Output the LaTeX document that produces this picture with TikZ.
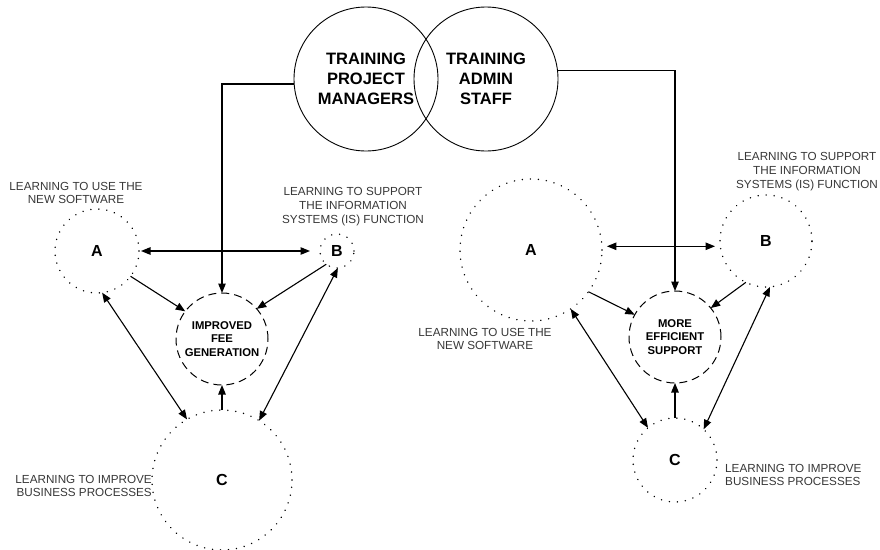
\documentclass[tikz,border=0pt]{standalone}
\usepackage{fontspec}
\setmainfont{Liberation Sans}
\usetikzlibrary{arrows.meta,calc}
\definecolor{lblgray}{HTML}{383838}
\begin{document}
\begin{tikzpicture}[x=1pt,y=-1pt,
  big/.style={circle,draw,line width=0.9pt,minimum size=144pt,inner sep=0pt,outer sep=0pt,
    font=\fontsize{16.5}{20}\selectfont\bfseries,align=center},
  dotc/.style={circle,draw,line width=1.6pt,dash pattern=on 0.01pt off 8pt,line cap=round,
    inner sep=0pt,outer sep=0pt,font=\fontsize{16}{18}\selectfont\bfseries},
  dashc/.style={circle,draw,line width=1pt,dash pattern=on 8pt off 5pt,inner sep=0pt,outer sep=0pt,
    align=center,font=\fontsize{11.3}{13.5}\selectfont\bfseries},
  lbl/.style={align=center,text=lblgray,inner sep=0pt,font=\fontsize{11.7}{13.9}\selectfont},
  arr/.style={line width=1.1pt,-{Triangle[length=9.5pt,width=7.5pt]}},
  dbl/.style={line width=1.1pt,{Triangle[length=9.5pt,width=7.5pt]}-{Triangle[length=9.5pt,width=7.5pt]}}
]
\useasboundingbox (0,0) rectangle (880,549);

% top circles
\node[big] (mgr) at (366,79) {TRAINING\\PROJECT\\MANAGERS};
\node[big] (adm) at (486,79) {TRAINING\\ADMIN\\STAFF};

% left cluster
\node[dotc,minimum size=84pt] (lA) at (97,251) {A};
\node[dotc,minimum size=34pt] (lB) at (337,251) {B};
\node[dashc,minimum size=92pt] (lF) at (222,339) {IMPROVED\\FEE\\GENERATION};
\node[dotc,minimum size=140pt] (lC) at (222,480) {C};

\node[lbl] (lAl) at (76,193) {LEARNING TO USE THE\\NEW SOFTWARE};
\node[lbl] (lBl) at (353,207) {LEARNING TO SUPPORT\\THE INFORMATION\\SYSTEMS (IS) FUNCTION};
\node[lbl,align=right,anchor=east] (lCl) at (152,486) {LEARNING TO IMPROVE\\BUSINESS PROCESSES};

% right cluster
\node[dotc,minimum size=142pt] (rA) at (531,250) {A};
\node[dotc,minimum size=92pt] (rB) at (766,241) {B};
\node[dashc,minimum size=92pt] (rF) at (675,337) {MORE\\EFFICIENT\\SUPPORT};
\node[dotc,minimum size=84pt] (rC) at (675,460) {C};

\node[lbl] (rAl) at (485,339) {LEARNING TO USE THE\\NEW SOFTWARE};
\node[lbl] (rBl) at (807,172) {LEARNING TO SUPPORT\\THE INFORMATION\\SYSTEMS (IS) FUNCTION};
\node[lbl,align=left,anchor=west] (rCl) at (725,475) {LEARNING TO IMPROVE\\BUSINESS PROCESSES};

% connectors from top
\draw[arr] (mgr.184) -| (lF.north);
\draw[arr] (adm.7) -| (rF.north);

% left connectors
\draw[dbl,shorten <=2pt,shorten >=10pt] (lA.east) -- (lB.west);
\draw[arr] (lA.-37) -- (lF.143);
\draw[arr] (lB.231) -- (lF.41);
\draw[dbl] (lC.120) -- (lA.-83);
\draw[dbl] (lC.58) -- (lB.-87);
\draw[arr] (lC.north) -- (lF.south);

% right connectors
\draw[dbl,shorten <=5pt,shorten >=5pt] (rA.3) -- (rA.3 -| rB.west);
\draw[arr] (rA.-36) -- (rF.151);
\draw[arr] (rB.244) -- (rF.39);
\draw[dbl] (rC.130) -- (rA.-56);
\draw[dbl] (rC.47) -- (rB.-85);
\draw[arr] (rC.north) -- (rF.south);
\end{tikzpicture}
\end{document}
